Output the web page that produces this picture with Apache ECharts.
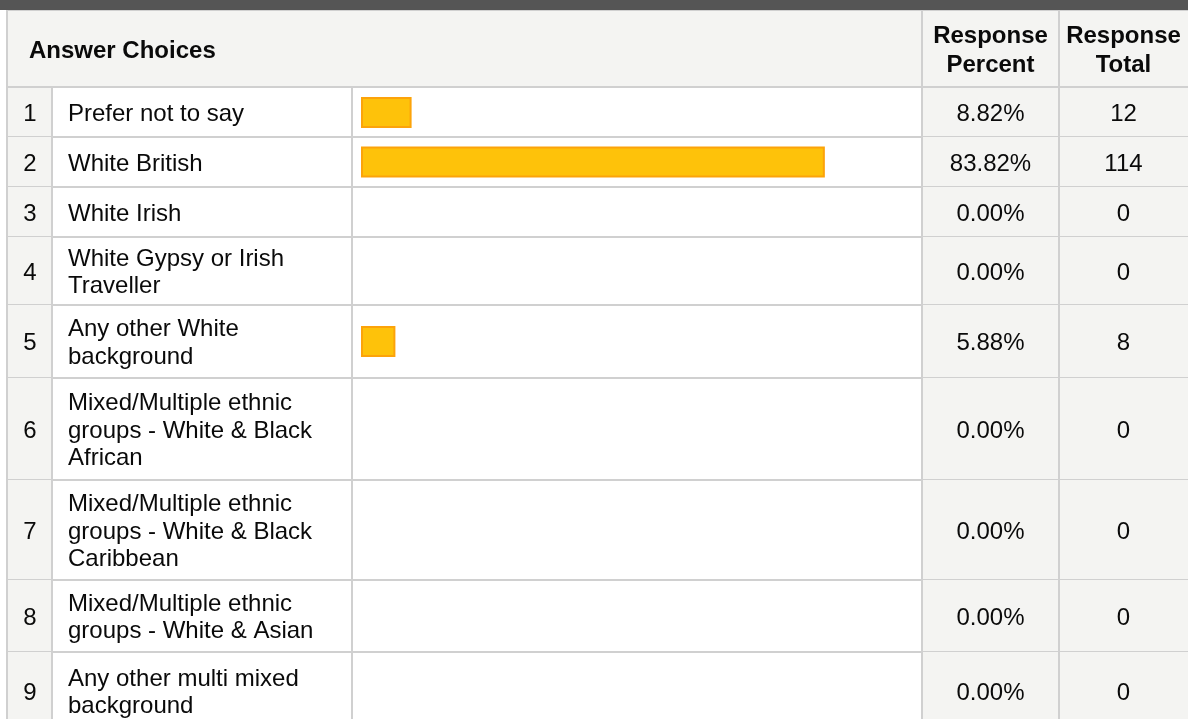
<!DOCTYPE html>
<html>
<head>
<meta charset="utf-8">
<script src="https://cdn.jsdelivr.net/npm/echarts@6/dist/echarts.min.js"></script>
<style>
	html, body { margin: 0; padding: 0; background: #fff; }
	#chart { width: 1188px; height: 719px; }
</style>
</head>
<body>
<div id="chart"></div>
<script>
// data
var choiceNumbers = ['1', '2', '3', '4', '5', '6', '7', '8', '9'];
var choiceLabels = [
	'Prefer not to say',
	'White British',
	'White Irish',
	'White Gypsy or Irish\nTraveller',
	'Any other White\nbackground',
	'Mixed/Multiple ethnic\ngroups - White & Black\nAfrican',
	'Mixed/Multiple ethnic\ngroups - White & Black\nCaribbean',
	'Mixed/Multiple ethnic\ngroups - White & Asian',
	'Any other multi mixed\nbackground'
];
var responsePercent = [8.82, 83.82, 0, 0, 5.88, 0, 0, 0, 0];
var responseTotal = [12, 114, 0, 0, 8, 0, 0, 0, 0];
var headerLabels = ['Answer Choices', 'Response\nPercent', 'Response\nTotal'];

// table layout (pixels)
var rowHeights = [49, 50, 50, 68, 73, 102, 100, 72, 78];
var colNum = [8, 52], colLabel = [52, 352], colBar = [352, 922], colPct = [922, 1059], colTot = [1059, 1188];
var bodyTop = 88;
var textShift = 2; // text sits a bit low in its cell
var font = '24px "Liberation Sans", Arial, sans-serif';
var boldFont = 'bold 24px "Liberation Sans", Arial, sans-serif';
var lineColor = '#d0d0d0';
var greyBg = '#f4f4f2';
var textColor = '#0a0a0a';

var rowTops = [];
var acc = 0;
for (var i = 0; i < rowHeights.length; i++) {
	rowTops.push(acc);
	acc += rowHeights[i];
}

var chart = echarts.init(document.getElementById('chart'));

function cellText(str, x, y, align, lh) {
	return { type: 'text', style: { text: str, x: x, y: y, font: font, fill: textColor, align: align, verticalAlign: 'middle', lineHeight: lh || 27 } };
}

function renderRow(params, api) {
	var i = api.value(1);
	var pct = api.value(0);
	var top = api.coord([0, rowTops[i]])[1];
	var bottom = api.coord([0, rowTops[i] + rowHeights[i]])[1];
	var mid = (top + bottom) / 2;
	var ty = mid + textShift;
	var barH = 31;
	var start = api.coord([0, 0])[0];
	var end = api.coord([pct, 0])[0];
	var children = [
		{ type: 'rect', shape: { x: colNum[0], y: top, width: colNum[1] - colNum[0], height: bottom - top }, style: { fill: greyBg } },
		{ type: 'rect', shape: { x: colPct[0], y: top, width: colTot[1] - colPct[0], height: bottom - top }, style: { fill: greyBg } },
		// row divider
		{ type: 'rect', shape: { x: colNum[0], y: bottom - 1, width: colTot[1] - colNum[0], height: 2 }, style: { fill: lineColor } },
		// column dividers
		{ type: 'rect', shape: { x: colLabel[0] - 1, y: top, width: 2, height: bottom - top }, style: { fill: lineColor } },
		{ type: 'rect', shape: { x: colBar[0] - 1, y: top, width: 2, height: bottom - top }, style: { fill: lineColor } },
		{ type: 'rect', shape: { x: colPct[0] - 1, y: top, width: 2, height: bottom - top }, style: { fill: lineColor } },
		{ type: 'rect', shape: { x: colTot[0] - 1, y: top, width: 2, height: bottom - top }, style: { fill: lineColor } },
		cellText(choiceNumbers[i], (colNum[0] + colNum[1]) / 2, ty, 'center'),
		cellText(choiceLabels[i], colLabel[0] + 16, ty, 'left', 27.5),
		cellText(responsePercent[i].toFixed(2) + '%', (colPct[0] + colPct[1]) / 2, ty, 'center'),
		cellText(String(responseTotal[i]), (colTot[0] + colTot[1]) / 2, ty, 'center')
	];
	if (pct > 0) {
		children.push({
			type: 'rect',
			shape: { x: start + 1, y: mid - barH / 2 + 1, width: end - start, height: barH - 2 },
			style: { fill: '#fec20a', stroke: '#fca30a', lineWidth: 2 }
		});
	}
	return { type: 'group', children: children };
}

var seriesData = [];
for (var r = 0; r < choiceNumbers.length; r++) {
	seriesData.push([responsePercent[r], r]);
}

chart.setOption({
	animation: false,
	backgroundColor: '#ffffff',
	grid: { left: 361, width: 551, top: bodyTop, height: 631 },
	xAxis: { type: 'value', min: 0, max: 100, show: false },
	yAxis: { type: 'value', min: 0, max: 631, inverse: true, show: false },
	graphic: [
		// dark top band
		{ type: 'rect', shape: { x: 0, y: 0, width: 1188, height: 10 }, style: { fill: '#555555' } },
		{ type: 'rect', shape: { x: 7, y: 10, width: 1181, height: 1 }, style: { fill: lineColor } },
		// header row
		{ type: 'rect', shape: { x: 8, y: 11, width: 1180, height: 76 }, style: { fill: greyBg } },
		{ type: 'rect', shape: { x: colPct[0] - 1, y: 11, width: 2, height: 76 }, style: { fill: lineColor } },
		{ type: 'rect', shape: { x: colTot[0] - 1, y: 11, width: 2, height: 76 }, style: { fill: lineColor } },
		{ type: 'rect', shape: { x: 7, y: 86, width: 1181, height: 2 }, style: { fill: lineColor } },
		// left border
		{ type: 'rect', z: 100, shape: { x: 6, y: 10, width: 2, height: 709 }, style: { fill: lineColor } },
		{ type: 'text', style: { text: headerLabels[0], x: 29, y: 49 + textShift, font: boldFont, fill: textColor, align: 'left', verticalAlign: 'middle' } },
		{ type: 'text', style: { text: headerLabels[1], x: (colPct[0] + colPct[1]) / 2, y: 49 + textShift, font: boldFont, fill: textColor, align: 'center', verticalAlign: 'middle', lineHeight: 29 } },
		{ type: 'text', style: { text: headerLabels[2], x: (colTot[0] + colTot[1]) / 2, y: 49 + textShift, font: boldFont, fill: textColor, align: 'center', verticalAlign: 'middle', lineHeight: 29 } }
	],
	series: [{
		type: 'custom',
		renderItem: renderRow,
		data: seriesData
	}]
});
</script>
</body>
</html>
